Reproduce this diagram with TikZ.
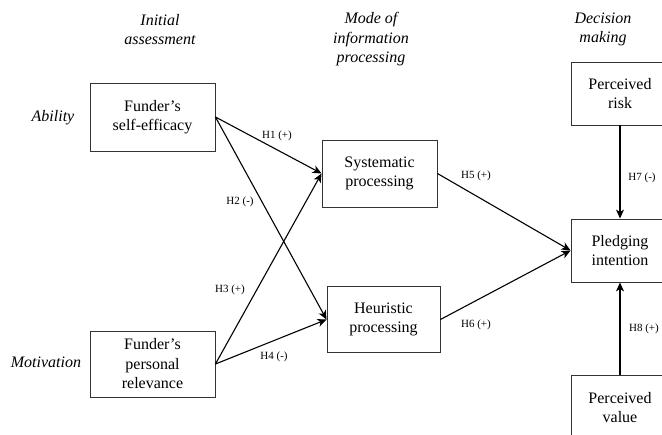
\documentclass[tikz,border=0pt]{standalone}
\usepackage{fontspec}
\setmainfont{Liberation Serif}
\usetikzlibrary{arrows.meta}
\tikzset{
  box/.style={draw=black!80, line width=0.9pt, inner sep=0pt, minimum height=67pt, align=center, font=\fontsize{16}{19.5}\selectfont},
  hdr/.style={align=center, font=\fontsize{16}{19.5}\selectfont\itshape},
  side/.style={font=\fontsize{16}{19.5}\selectfont\itshape},
  hyp/.style={font=\fontsize{11}{12}\selectfont, inner sep=0pt},
  conn/.style={line width=1.1pt, -{Stealth[length=9pt,width=8pt,inset=2.5pt]}}
}
\begin{document}
\begin{tikzpicture}[x=1pt,y=-1pt]
\useasboundingbox (0,0) rectangle (662,435);
\clip (0,0) rectangle (662,435);
% headers
\node[hdr] (h1) at (160,29.5) {Initial\\assessment};
\node[hdr] (h2) at (371,39.5) {Mode of\\information\\processing};
\node[hdr] (h3) at (603,29.5) {Decision\\making};
% side labels
\node[side] (ab) at (53,118) {Ability};
\node[side] (mo) at (46,362) {Motivation};
% boxes
\node[box, minimum width=125pt, minimum height=68pt] (se) at (152.5,117) {Funder’s\\self-efficacy};
\node[box, minimum width=125pt, minimum height=66pt] (pr) at (152.5,364) {Funder’s\\personal\\relevance};
\node[box, minimum width=115pt] (sys) at (379.5,173.5) {Systematic\\processing};
\node[box, minimum width=113pt, minimum height=66pt] (heu) at (383.5,319.5) {Heuristic\\processing};
\node[box, minimum width=98pt, minimum height=63pt] (risk) at (620,93.5) {Perceived\\risk};
\node[box, minimum width=98pt, minimum height=63pt] (pi) at (620,250.5) {Pledging\\intention};
\node[box, minimum width=98pt, minimum height=65pt] (val) at (620,407.5) {Perceived\\value};
% connectors
\draw[conn] (se.east) -- (sys.west);
\draw[conn] (se.east) -- (heu.west);
\draw[conn] (pr.east) -- (sys.west);
\draw[conn] (pr.east) -- (heu.west);
\draw[conn] (sys.east) -- (pi.west);
\draw[conn] (heu.east) -- (pi.west);
\draw[conn] (risk.south) -- (pi.north);
\draw[conn] (val.north) -- (pi.south);
% hypothesis labels
\node[hyp] (l1) at (277,136) {H1 (+)};
\node[hyp] (l2) at (240,202) {H2 (-)};
\node[hyp] (l3) at (230,290) {H3 (+)};
\node[hyp] (l4) at (274,357) {H4 (-)};
\node[hyp] (l5) at (476,176) {H5 (+)};
\node[hyp] (l6) at (476,325) {H6 (+)};
\node[hyp] (l7) at (642,178) {H7 (-)};
\node[hyp] (l8) at (644,329) {H8 (+)};
\end{tikzpicture}
\end{document}
